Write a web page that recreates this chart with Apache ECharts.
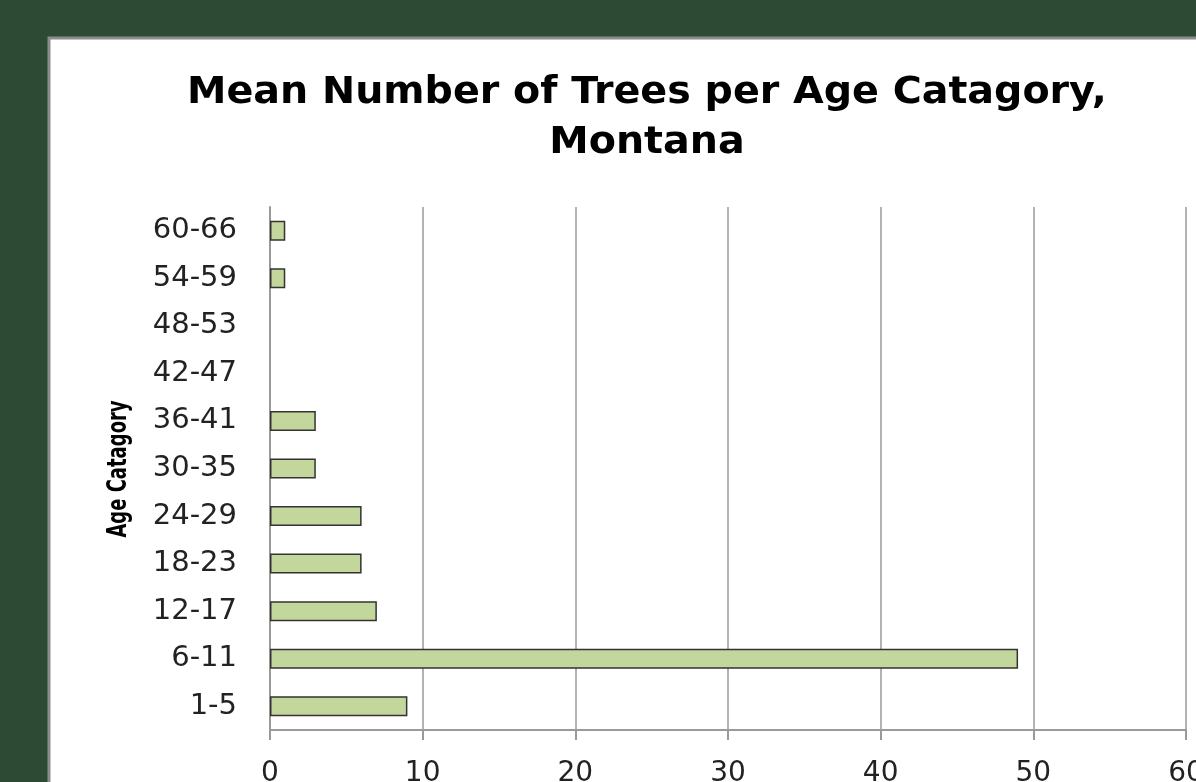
<!DOCTYPE html>
<html>
<head>
<meta charset="utf-8">
<script src="https://cdn.jsdelivr.net/npm/echarts@6/dist/echarts.min.js"></script>
<style>
  html, body { margin: 0; padding: 0; background: #2d4a34; overflow: hidden; }
  #chart { width: 1196px; height: 782px; }
</style>
</head>
<body>
<div id="chart"></div>
<script>
// Age categories, bottom to top
const categories = ['1-5', '6-11', '12-17', '18-23', '24-29', '30-35', '36-41', '42-47', '48-53', '54-59', '60-66'];
// Mean number of trees in each category
const meanTrees = [9, 49, 7, 6, 6, 3, 3, 0, 0, 1, 1];
const titleText = 'Mean Number of Trees per Age Catagory,\nMontana';
const axisName = 'Age Catagory';

const chart = echarts.init(document.getElementById('chart'), null, { renderer: 'canvas' });

// Empty categories draw no outline at all
const barData = meanTrees.map(v => v === 0
  ? { value: v, itemStyle: { borderWidth: 0 } }
  : v);

chart.setOption({
  backgroundColor: '#2d4a34',
  animation: false,
  graphic: [{
    type: 'rect',
    z: -10,
    shape: { x: 49, y: 38, width: 1200, height: 800 },
    style: { fill: '#ffffff', stroke: '#8c8c8c', lineWidth: 3 }
  }, {
    // Wide bold heading, centred over the plot
    type: 'text',
    z: 10,
    x: 647,
    y: 68,
    scaleX: 1.07,
    style: {
      text: titleText,
      x: 0,
      y: 0,
      align: 'center',
      verticalAlign: 'top',
      font: 'bold 37px "DejaVu Sans"',
      lineHeight: 50,
      fill: '#000000'
    }
  }, {
    // Category axis title: tall, narrow letters reading bottom to top
    type: 'text',
    z: 10,
    x: 119,
    y: 469,
    rotation: Math.PI / 2,
    scaleY: 1.35,
    style: {
      text: axisName,
      x: 0,
      y: 0,
      align: 'center',
      verticalAlign: 'middle',
      font: 'bold 20px "DejaVu Sans Condensed", "DejaVu Sans"',
      fill: '#000000'
    }
  }],
  grid: {
    left: 270,
    right: 10,
    top: 207,
    bottom: 52,
    containLabel: false,
    outerBoundsMode: 'none'
  },
  xAxis: {
    type: 'value',
    min: 0,
    max: 60,
    interval: 10,
    axisLine: { show: true, lineStyle: { color: '#9a9a9a', width: 2 } },
    axisTick: { show: true, length: 10, lineStyle: { color: '#9a9a9a', width: 2 } },
    splitLine: { show: true, lineStyle: { color: '#9a9a9a', width: 1.5 } },
    axisLabel: {
      margin: 30,
      fontFamily: 'DejaVu Sans',
      fontSize: 28,
      color: '#222222'
    }
  },
  yAxis: {
    type: 'category',
    data: categories,
    axisLine: { show: true, lineStyle: { color: '#9a9a9a', width: 2 } },
    axisTick: { show: false },
    axisLabel: {
      margin: 33,
      fontFamily: 'DejaVu Sans',
      fontSize: 29,
      color: '#222222'
    }
  },
  series: [{
    type: 'bar',
    data: barData,
    barWidth: 20,
    itemStyle: {
      color: '#c3d69b',
      borderColor: '#333333',
      borderWidth: 1.5
    }
  }]
});
</script>
</body>
</html>
